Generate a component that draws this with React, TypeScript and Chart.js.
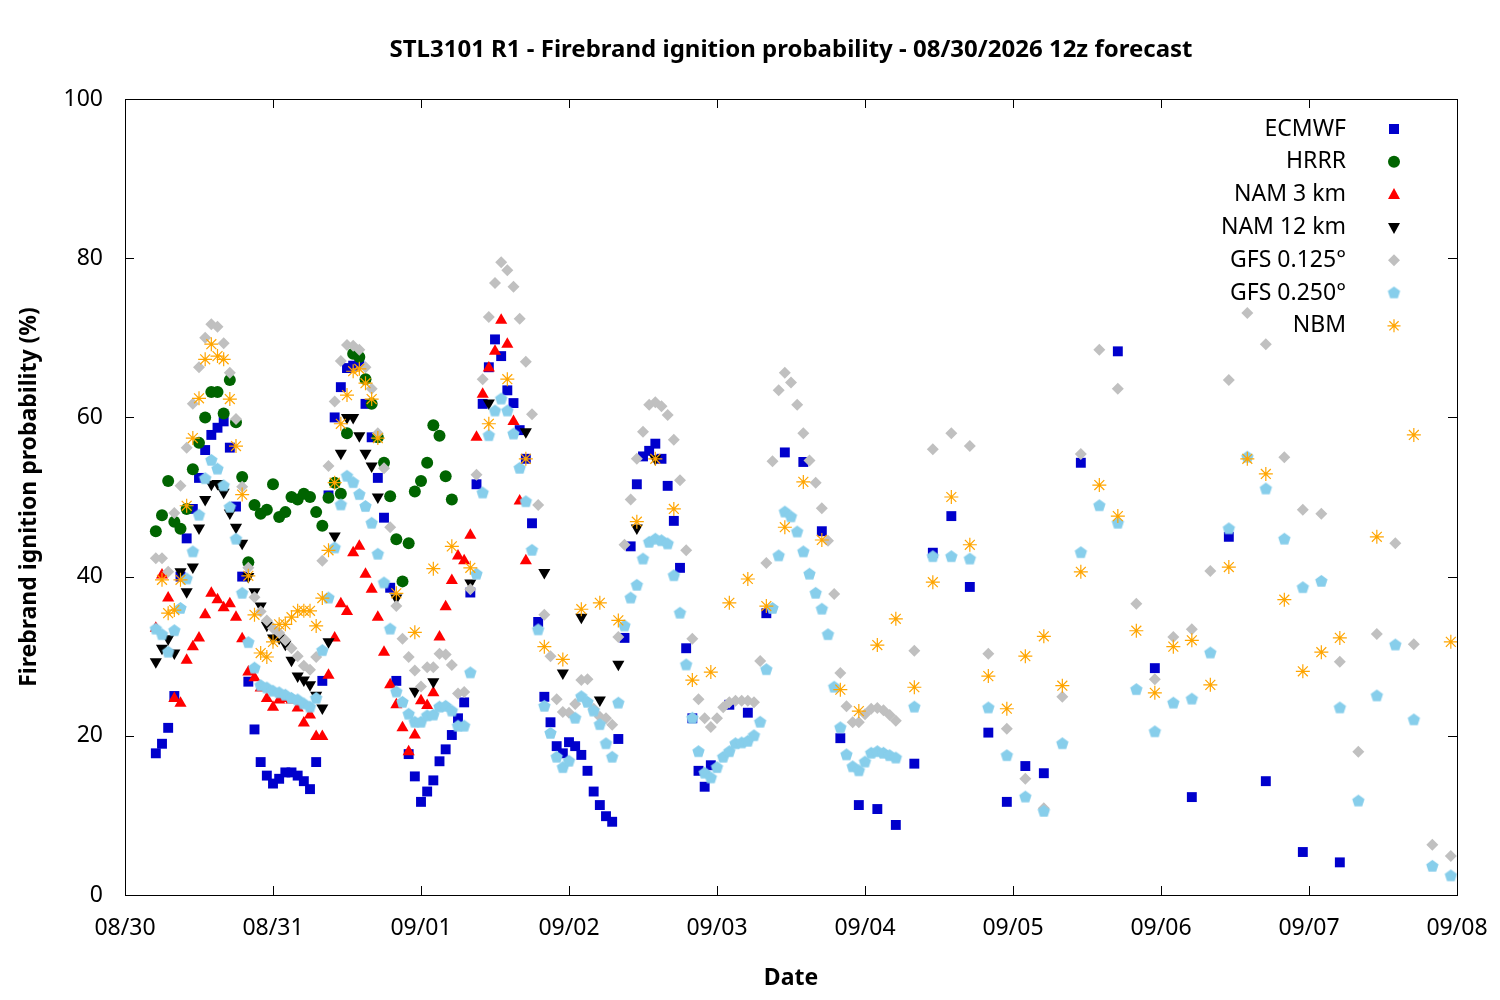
import React, { useEffect, useRef } from "react";
import { Chart, registerables } from "chart.js";
Chart.register(...registerables);

const dateLabels = ["08/30","08/31","09/01","09/02","09/03","09/04","09/05","09/06","09/07","09/08"];
const seriesNames = ["ECMWF","HRRR","NAM 3 km","NAM 12 km","GFS 0.125°","GFS 0.250°","NBM"];

const ecmwfHours = [5,6,7,8,9,10,11,12,13,14,15,16,17,18,19,20,21,22,23,24,25,26,27,28,29,30,31,32,33,34,35,36,37,38,39,40,41,42,43,44,46,47,48,49,50,51,52,53,54,55,56,57,58,59,60,61,62,63,64,65,66,67,68,69,70,71,72,73,74,75,76,77,78,79,80,81,82,83,84,85,86,87,88,89,90,91,92,93,94,95,98,101,104,107,110,113,116,119,122,125,128,131,134,137,140,143,146,149,155,161,167,173,179,185,191,197];
const ecmwfValues = [17.8,19,21,25,40,44.8,48.5,52.4,55.9,57.8,58.7,59.5,56.2,48.8,40,26.8,20.8,16.7,15,14,14.6,15.4,15.4,15,14.3,13.3,16.7,26.9,50.2,60,63.8,66.2,66.5,66.8,61.7,57.5,52.4,47.4,38.6,26.9,17.7,14.9,11.7,13,14.4,16.8,18.3,20.1,22.2,24.2,38,51.6,61.7,66.3,69.8,67.7,63.4,61.8,58.4,54.8,46.7,34.3,24.9,21.7,18.7,17.8,19.2,18.7,17.6,15.6,13,11.3,9.9,9.2,19.6,32.3,43.8,51.6,55.1,55.8,56.7,54.8,51.4,47,41.1,31,22.2,15.6,13.6,16.3,23.9,22.9,35.4,55.6,54.4,45.7,19.7,11.3,10.8,8.8,16.5,43,47.6,38.7,20.4,11.7,16.2,15.3,54.3,68.3,28.5,12.3,45,14.3,5.4,4.1];

const hrrrHours = [5,6,7,8,9,10,11,12,13,14,15,16,17,18,19,20,21,22,23,24,25,26,27,28,29,30,31,32,33,34,35,36,37,38,39,40,41,42,43,44,45,46,47,48,49,50,51,52,53];
const hrrrValues = [45.7,47.7,52,46.9,46,48.5,53.5,56.8,60,63.2,63.2,60.5,64.7,59.4,52.5,41.8,49,47.9,48.4,51.6,47.5,48.1,50,49.7,50.4,50,48.1,46.4,49.9,51.8,50.4,58,68,67.6,64.8,61.7,57.5,54.3,50.1,44.7,39.4,44.2,50.7,52,54.3,59,57.7,52.6,49.7];

const nam3Hours = [5,6,7,8,9,10,11,12,13,14,15,16,17,18,19,20,21,22,23,24,25,26,27,28,29,30,31,32,33,34,35,36,37,38,39,40,41,42,43,44,45,46,47,48,49,50,51,52,53,54,55,56,57,58,59,60,61,62,63,64,65];
const nam3Values = [33.5,40.2,37.3,24.7,24.1,29.5,31.2,32.3,35.2,37.9,37.1,36.1,36.6,34.9,32.2,28,27.3,26,24.7,23.6,24.5,24.7,24.5,23.5,21.6,22.6,19.9,19.9,27.6,32.3,36.6,35.6,43,43.8,40.3,38.4,34.9,30.5,26.4,23.9,21,18,20.1,24.4,23.8,25.4,32.4,36.2,39.5,42.6,42,45.2,57.5,62.9,66.2,68.3,72.2,69.2,59.5,49.5,42];

const nam12Hours = [5,6,7,8,9,10,11,12,13,14,15,16,17,18,19,20,21,22,23,24,25,26,27,28,29,30,31,32,33,34,35,36,37,38,39,40,41,44,47,50,56,59,65,68,71,74,77,80,83,86];
const nam12Values = [29.3,31,32.2,30.4,40.6,38.1,41.2,46.1,49.7,51.6,51.7,50.6,48,46.2,44.2,40,38.1,36.3,33.9,32.3,32.3,31.5,29.5,27.5,27,26.4,25.1,23.5,31.8,45.1,55.5,60,60,57.7,55.5,53.9,50,37.3,25.6,26.8,39.2,61.8,58.2,40.5,27.9,34.9,24.5,29,46.1,54.8];

const gfs125Hours = [5,6,7,8,9,10,11,12,13,14,15,16,17,18,19,20,21,22,23,24,25,26,27,28,29,30,31,32,33,34,35,36,37,38,39,40,41,42,43,44,45,46,47,48,49,50,51,52,53,54,55,56,57,58,59,60,61,62,63,64,65,66,67,68,69,70,71,72,73,74,75,76,77,78,79,80,81,82,83,84,85,86,87,88,89,90,91,92,93,94,95,96,97,98,99,100,101,102,103,104,105,106,107,108,109,110,111,112,113,114,115,116,117,118,119,120,121,122,123,124,125,128,131,134,137,140,143,146,149,152,155,158,161,164,167,170,173,176,179,182,185,188,191,194,197,200,203,206,209,212,215];
const gfs125Values = [42.3,42.3,40.6,48,51.4,56.2,61.7,66.3,70,71.7,71.4,69.3,65.6,59.8,51.3,41.1,37.4,35.6,34.5,33.5,32.9,32,31,30,28.8,28.3,29.9,42,53.9,62,67.1,69.1,69,68.5,66.3,63.6,58,53.6,46.2,36.3,32.2,29.9,28.2,26.2,28.6,28.6,30.3,30.2,28.9,25.3,25.5,38.4,52.8,64.8,72.6,76.9,79.5,78.5,76.4,72.4,67,60.4,49,35.2,30,24.6,23,22.9,24,27,27.1,23.4,22.4,22.2,21.4,32.4,44,49.7,54.8,58.2,61.6,61.9,61.4,60.3,57.2,52.1,43.3,32.2,24.6,22.2,21.1,22.2,23.6,24.2,24.4,24.4,24.4,24.2,29.4,41.7,54.5,63.4,65.6,64.4,61.6,58,54.6,51.8,48.6,44.5,37.8,27.9,23.7,21.7,21.7,22.7,23.4,23.5,23.2,22.6,21.9,30.7,56,58,56.4,30.3,20.9,14.6,10.9,24.9,55.4,68.5,63.6,36.6,27.1,32.4,33.4,40.7,64.7,73.1,69.2,55,48.4,47.9,29.3,18,32.8,44.2,31.5,6.3,4.9];

const gfs250Hours = gfs125Hours;
const gfs250Values = [33.4,32.7,30.5,33.2,36,39.7,43.1,47.7,52.3,54.6,53.5,51.4,48.7,44.7,37.9,31.7,28.5,26.3,26,25.6,25.4,25.1,24.7,24.5,24,23.6,24.7,30.7,37.3,43.6,49,52.6,51.8,50.3,48.8,46.7,42.8,39.2,33.4,25.5,24.2,22.7,21.7,21.7,22.5,22.6,23.6,23.7,23.1,21.2,21.2,27.9,40.3,50.5,57.7,60.8,62.3,60.8,57.9,53.6,49.4,43.3,33.3,23.7,20.3,17.3,16,16.8,22.2,24.9,24.2,23.1,21.4,19,17.3,24.1,33.8,37.3,38.9,42.2,44.3,44.7,44.5,44.1,40.1,35.4,28.9,22.2,18,15.3,14.7,16,17.3,18,19,19.1,19.3,20,21.7,28.3,36,42.6,48.1,47.5,45.6,43.1,40.3,37.9,35.9,32.7,26.1,21,17.6,16.1,15.6,16.7,17.8,18,17.8,17.5,17.2,23.6,42.5,42.5,42.2,23.5,17.5,12.3,10.5,19,43,48.9,46.7,25.8,20.5,24.1,24.6,30.4,46,55,51,44.7,38.6,39.4,23.5,11.8,25,31.4,22,3.6,2.4];

const nbmHours = [6,7,8,9,10,11,12,13,14,15,16,17,18,19,20,21,22,23,24,25,26,27,28,29,30,31,32,33,34,35,36,37,38,39,40,41,44,47,50,53,56,59,62,65,68,71,74,77,80,83,86,89,92,95,98,101,104,107,110,113,116,119,122,125,128,131,134,137,140,143,146,149,152,155,158,161,164,167,170,173,176,179,182,185,188,191,194,197,203,209,215];
const nbmValues = [39.6,35.4,35.8,39.6,48.9,57.4,62.4,67.3,69.2,67.7,67.3,62.3,56.4,50.3,40.1,35.2,30.4,29.9,31.8,34,34,34.9,35.7,35.7,35.7,33.8,37.3,43.3,51.8,59.2,62.8,65.8,66.1,64.3,62.3,57.4,37.9,33,41,43.8,41.1,59.2,64.8,54.8,31.2,29.6,35.9,36.7,34.5,46.9,54.8,48.5,27,28,36.7,39.7,36.3,46.2,51.9,44.6,25.8,23.1,31.4,34.7,26.1,39.3,50,44,27.5,23.4,30,32.5,26.3,40.6,51.5,47.6,33.2,25.4,31.2,32,26.4,41.2,54.8,52.9,37.1,28.1,30.5,32.3,45,57.8,31.8];

const colors = ["#0000cc","#006400","#ff0000","#000000","#c0c0c0","#87ceeb","#ffa500"];
const FONT = "'Noto Sans', 'DejaVu Sans', sans-serif";

function pentagonCanvas(r: number, color: string) {
  const c = document.createElement("canvas");
  c.width = c.height = Math.ceil(r * 2 + 2);
  const ctx = c.getContext("2d")!;
  const cx = c.width / 2, cy = c.height / 2;
  ctx.fillStyle = color;
  ctx.beginPath();
  for (let i = 0; i < 5; i++) {
    const a = -Math.PI / 2 + (i * 2 * Math.PI) / 5;
    const px = cx + r * Math.cos(a), py = cy + r * Math.sin(a);
    if (i === 0) ctx.moveTo(px, py); else ctx.lineTo(px, py);
  }
  ctx.closePath();
  ctx.fill();
  return c;
}

function drawMarker(ctx: CanvasRenderingContext2D, i: number, x: number, y: number, penta: HTMLCanvasElement) {
  ctx.save();
  ctx.fillStyle = colors[i];
  ctx.strokeStyle = colors[i];
  ctx.beginPath();
  if (i === 0) { ctx.fillRect(x - 5, y - 5, 10, 10); }
  else if (i === 1) { ctx.arc(x, y, 6, 0, Math.PI * 2); ctx.fill(); }
  else if (i === 2) { ctx.moveTo(x, y - 6.5); ctx.lineTo(x + 6, y + 4.5); ctx.lineTo(x - 6, y + 4.5); ctx.closePath(); ctx.fill(); }
  else if (i === 3) { ctx.moveTo(x, y + 6.5); ctx.lineTo(x + 6, y - 4.5); ctx.lineTo(x - 6, y - 4.5); ctx.closePath(); ctx.fill(); }
  else if (i === 4) { ctx.moveTo(x, y - 6); ctx.lineTo(x + 6, y); ctx.lineTo(x, y + 6); ctx.lineTo(x - 6, y); ctx.closePath(); ctx.fill(); }
  else if (i === 5) { ctx.drawImage(penta, x - penta.width / 2, y - penta.height / 2); }
  else {
    ctx.lineWidth = 1.2;
    for (let k = 0; k < 4; k++) {
      const a = (k * Math.PI) / 4;
      ctx.moveTo(x - 6.5 * Math.cos(a), y - 6.5 * Math.sin(a));
      ctx.lineTo(x + 6.5 * Math.cos(a), y + 6.5 * Math.sin(a));
    }
    ctx.stroke();
  }
  ctx.restore();
}

export default function App() {
  const ref = useRef<HTMLCanvasElement>(null);
  useEffect(() => {
    const penta = pentagonCanvas(6.5, colors[5]);
    const pairs = (h: number[], v: number[]) => h.map((x, i) => ({ x, y: v[i] }));
    const allData = [
      pairs(ecmwfHours, ecmwfValues), pairs(hrrrHours, hrrrValues), pairs(nam3Hours, nam3Values),
      pairs(nam12Hours, nam12Values), pairs(gfs125Hours, gfs125Values), pairs(gfs250Hours, gfs250Values),
      pairs(nbmHours, nbmValues),
    ];
    const styles: any[] = [
      { pointStyle: "rect", pointRadius: 7, borderWidth: 0 },
      { pointStyle: "circle", pointRadius: 6, borderWidth: 0 },
      { pointStyle: "triangle", pointRadius: 7, borderWidth: 0 },
      { pointStyle: "triangle", pointRadius: 7, borderWidth: 0, rotation: 180 },
      { pointStyle: "rectRot", pointRadius: 6, borderWidth: 0 },
      { pointStyle: penta, pointRadius: 6.5, borderWidth: 0 },
      { pointStyle: "star", pointRadius: 7, borderWidth: 1.2 },
    ];
    const datasets = allData.map((d, i) => ({
      label: seriesNames[i], data: d, showLine: false,
      backgroundColor: colors[i], borderColor: colors[i],
      order: 7 - i, ...styles[i],
    }));
    const frame = {
      id: "frame",
      afterDraw(chart: any) {
        const { ctx, chartArea: a } = chart;
        ctx.save();
        ctx.strokeStyle = "#000"; ctx.lineWidth = 1;
        ctx.strokeRect(a.left + 0.5, a.top + 0.5, a.right - a.left, a.bottom - a.top);
        ctx.beginPath();
        const ys = chart.scales.y, xs = chart.scales.x;
        for (let v = 0; v <= 100; v += 20) {
          const p = Math.round(ys.getPixelForValue(v)) + 0.5;
          ctx.moveTo(a.left, p); ctx.lineTo(a.left + 9, p);
          ctx.moveTo(a.right, p); ctx.lineTo(a.right - 9, p);
        }
        for (let h = 0; h <= 216; h += 24) {
          const p = Math.round(xs.getPixelForValue(h)) + 0.5;
          ctx.moveTo(p, a.bottom); ctx.lineTo(p, a.bottom - 9);
          ctx.moveTo(p, a.top); ctx.lineTo(p, a.top + 9);
        }
        ctx.stroke();
        ctx.fillStyle = "#000";
        ctx.font = `bold 24px ${FONT}`;
        ctx.textAlign = "center"; ctx.textBaseline = "middle";
        ctx.fillText("STL3101 R1 - Firebrand ignition probability - 08/30/2026 12z forecast", (a.left + a.right) / 2, 50);
        ctx.font = `23px ${FONT}`;
        ctx.textAlign = "right";
        seriesNames.forEach((n, i) => {
          const y = 129 + i * 32.8;
          ctx.fillStyle = "#000";
          ctx.fillText(n, 1346, y);
          drawMarker(ctx, i, 1394, y, penta);
        });
        ctx.restore();
      },
    };
    const chart = new Chart(ref.current!, {
      type: "scatter",
      data: { datasets },
      plugins: [frame],
      options: {
        animation: false, responsive: false,
        layout: { padding: { left: 0, right: 43, top: 99, bottom: 0 } },
        plugins: { legend: { display: false }, tooltip: { enabled: false } },
        scales: {
          x: {
            type: "linear", min: 0, max: 216,
            afterFit: (s: any) => { s.height = 105; },
            grid: { display: false },
            border: { display: false },
            ticks: { stepSize: 24, color: "#000", font: { family: FONT, size: 23 }, padding: 12, maxRotation: 0,
              callback: (v: any) => dateLabels[Math.round(Number(v) / 24)] },
            title: { display: true, text: "Date", color: "#000", font: { family: FONT, size: 23, weight: "bold" }, padding: { top: 4, bottom: 8 } },
          },
          y: {
            min: 0, max: 100,
            afterFit: (s: any) => { s.width = 125; },
            grid: { display: false },
            border: { display: false },
            ticks: { stepSize: 20, color: "#000", font: { family: FONT, size: 23 }, padding: 14 },
            title: { display: true, text: "Firebrand ignition probability (%)", color: "#000", font: { family: FONT, size: 23, weight: "bold" }, padding: { top: 16, bottom: 4 } },
          },
        },
      },
    });
    return () => chart.destroy();
  }, []);
  return (
    <div style={{ position: "fixed", left: 0, top: 0, width: 1500, height: 1000, background: "#fff" }}>
      <canvas ref={ref} width={1500} height={1000} style={{ width: 1500, height: 1000 }} />
    </div>
  );
}
